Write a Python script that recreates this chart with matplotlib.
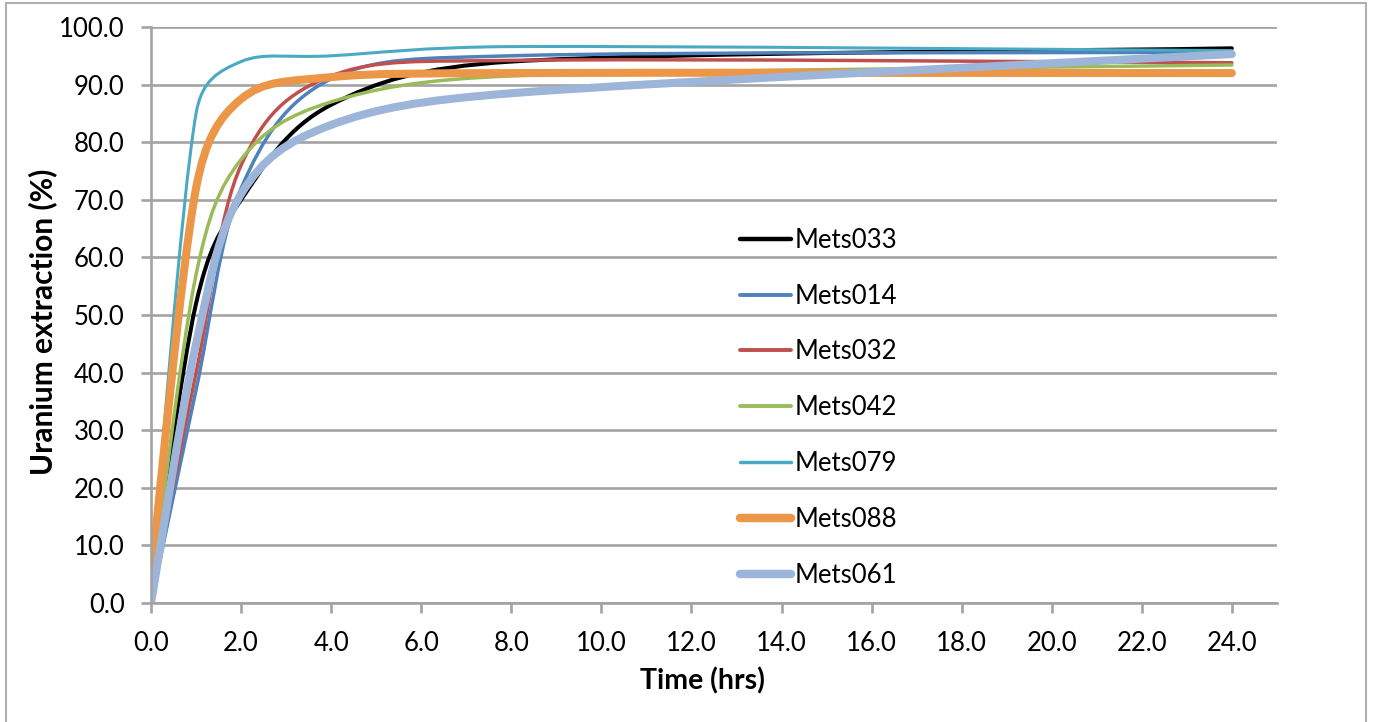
import matplotlib
matplotlib.use("Agg")
import matplotlib.pyplot as plt
from matplotlib.path import Path
from matplotlib.patches import PathPatch, Rectangle
from matplotlib.lines import Line2D
import numpy as np

plt.rcParams['font.family'] = ['Lato', 'DejaVu Sans']

# sampling times (hrs)
time_hrs = [0, 1, 2, 4, 8, 24]

# uranium extraction (%)
mets033 = [2.0, 52.0, 70.0, 86.5, 94.0, 96.3]
mets014 = [0.0, 37.0, 72.0, 91.0, 95.0, 95.6]
mets032 = [1.0, 40.0, 76.0, 91.5, 94.2, 93.8]
mets042 = [2.0, 57.0, 77.0, 87.0, 91.5, 93.4]
mets079 = [4.0, 85.0, 94.0, 95.0, 96.6, 95.9]
mets088 = [5.0, 72.0, 87.5, 91.3, 92.0, 92.0]
mets061 = [0.0, 45.0, 71.0, 83.0, 88.5, 95.3]

names = ['Mets033', 'Mets014', 'Mets032', 'Mets042', 'Mets079', 'Mets088', 'Mets061']
series = [mets033, mets014, mets032, mets042, mets079, mets088, mets061]
colors = ['#000000', '#4F81BD', '#C0504D', '#9BBB59', '#4AAAC4', '#EC9648', '#9CB5D8']
widths = [2.9, 2.5, 2.5, 2.5, 2.2, 5.8, 5.8]


def smooth_path(ax, xs, ys):
    # Excel-style smoothed line: cubic Bezier segments, tangents from the neighbours,
    # control arms limited to half the segment length (measured on screen)
    pts = np.column_stack([xs, ys]).astype(float)
    scr = ax.transData.transform(pts)
    n = len(pts)
    verts = [pts[0]]
    codes = [Path.MOVETO]
    for i in range(n - 1):
        a, b = max(i - 1, 0), min(i + 2, n - 1)
        d12 = np.hypot(*(scr[i + 1] - scr[i]))
        d02 = np.hypot(*(scr[i + 1] - scr[a]))
        d13 = np.hypot(*(scr[b] - scr[i]))
        f = 1 / 6 if d02 / 6 < d12 / 2 else d12 / (2 * d02)
        g = 1 / 6 if d13 / 6 < d12 / 2 else d12 / (2 * d13)
        c1 = pts[i] + (pts[i + 1] - pts[a]) * f
        c2 = pts[i + 1] - (pts[b] - pts[i]) * g
        verts += [c1, c2, pts[i + 1]]
        codes += [Path.CURVE4] * 3
    return Path(verts, codes)


fig = plt.figure(figsize=(13.73, 7.22), dpi=100)
ax = fig.add_axes([0.110, 0.1648, 0.820, 0.7978])
ax.set_xlim(0, 25)
ax.set_ylim(0, 100)

grid_col = '#A3A3A3'
handles = []
for name, vals, col, lw in zip(names, series, colors, widths):
    patch = PathPatch(smooth_path(ax, time_hrs, vals), facecolor='none', edgecolor=col,
                      linewidth=lw, capstyle='round', joinstyle='round')
    ax.add_patch(patch)
    handles.append(Line2D([], [], color=col, linewidth=lw + 0.3, solid_capstyle='round', label=name))

ax.set_xticks(np.arange(0, 25, 2))
ax.set_yticks(np.arange(0, 101, 10))
ax.xaxis.set_major_formatter(matplotlib.ticker.FormatStrFormatter('%.1f'))
ax.yaxis.set_major_formatter(matplotlib.ticker.FormatStrFormatter('%.1f'))

ax.grid(axis='y', color=grid_col, linewidth=1.9)
ax.set_axisbelow(True)
for side in ['top', 'right']:
    ax.spines[side].set_visible(False)
for side in ['left', 'bottom']:
    ax.spines[side].set_color(grid_col)
    ax.spines[side].set_linewidth(1.9)
ax.tick_params(axis='both', colors=grid_col, width=1.9, length=7, labelcolor='black', labelsize=18.5)
ax.tick_params(axis='y', pad=12)
ax.tick_params(axis='x', pad=13)

ax.set_xlabel('Time (hrs)', fontsize=20.5, fontweight='bold')
ax.set_ylabel('Uranium extraction (%)', fontsize=21.5, fontweight='bold')
ax.xaxis.set_label_coords(0.49, -0.112)
ax.yaxis.set_label_coords(-0.083, 0.488)

ax.legend(handles=handles, loc='center left', bbox_to_anchor=(0.523, 0.339), frameon=False,
          fontsize=18.5, handlelength=2.0, handletextpad=0.12, labelspacing=1.2,
          borderpad=0, borderaxespad=0)

# chart-area border like the spreadsheet frame
fig.patches.append(Rectangle((6 / 1373, -0.05), 1360 / 1373, 1.05 - 3 / 722,
                             transform=fig.transFigure, fill=False,
                             edgecolor='#B0B0B0', linewidth=1.5))

fig.savefig('out.png', dpi=100)
